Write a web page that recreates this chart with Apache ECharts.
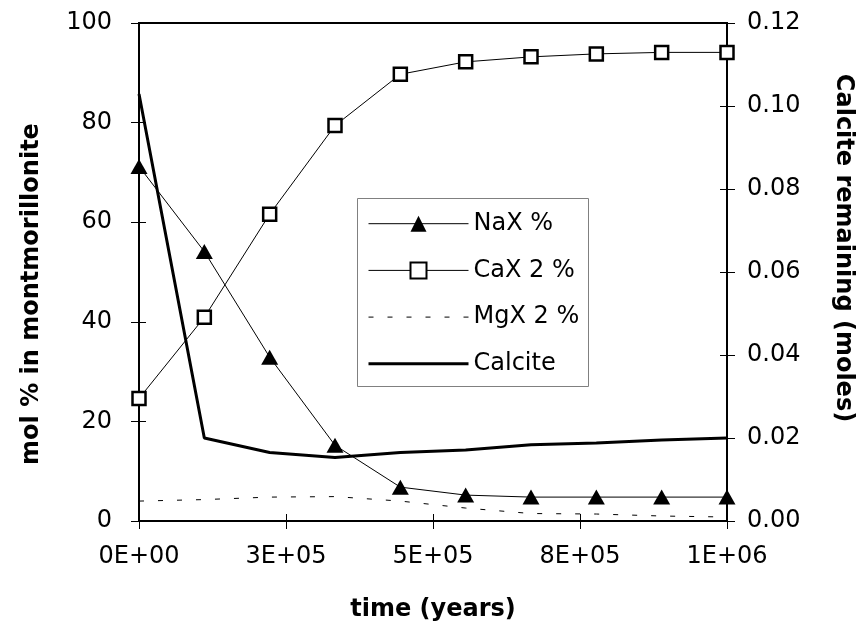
<!DOCTYPE html>
<html>
<head>
<meta charset="utf-8">
<script src="https://cdn.jsdelivr.net/npm/echarts@6/dist/echarts.min.js"></script>
<style>
html,body{margin:0;padding:0;background:#fff;}
#c{width:863px;height:628px;}
</style>
</head>
<body>
<div id="c"></div>
<script>
var timeYears = [0, 111111, 222222, 333333, 444444, 555556, 666667, 777778, 888889, 1000000];
var naxPct = [71.2, 54.1, 32.9, 15.2, 6.8, 5.2, 4.8, 4.8, 4.8, 4.8];
var caxPct = [24.6, 40.9, 61.6, 79.4, 89.7, 92.2, 93.2, 93.8, 94.1, 94.1];
var mgxPct = [4.0, 4.3, 4.8, 4.9, 4.0, 2.6, 1.5, 1.4, 1.0, 0.8];
var calciteMoles = [0.1029, 0.0200, 0.0165, 0.0153, 0.0165, 0.0171, 0.0184, 0.0188, 0.0195, 0.0200];
var xTickLabels = ['0E+00', '3E+05', '5E+05', '8E+05', '1E+06'];
var seriesNames = ['NaX %', 'CaX 2 %', 'MgX 2 %', 'Calcite'];

function pairs(ys) { return timeYears.map(function (t, i) { return [t, ys[i]]; }); }

var chart = echarts.init(document.getElementById('c'), null, {renderer: 'canvas'});
var labelFont = {fontFamily: 'DejaVu Sans', fontSize: 24, color: '#000'};
var nameFont = {fontFamily: 'DejaVu Sans', fontSize: 24, fontWeight: 'bold', color: '#000'};
var gridBox = {left: 139, right: 136, top: 23, bottom: 107};
var tickIn = {show: true, inside: true, length: 7, lineStyle: {color: '#000', width: 1}};
var tickOut = {show: true, inside: false, length: 8, lineStyle: {color: '#000', width: 1}};

var option = {
  backgroundColor: '#fff',
  animation: false,
  grid: [
    Object.assign({show: true, borderColor: '#000', borderWidth: 2}, gridBox),
    Object.assign({show: false}, gridBox)
  ],
  legend: {
    orient: 'vertical', left: 367, top: 211.7, padding: 0,
    itemWidth: 100, itemHeight: 20, itemGap: 22.7,
    textStyle: {fontFamily: 'DejaVu Sans', fontSize: 24, color: '#000'},
    data: [
      {name: seriesNames[0], lineStyle: {width: 1}},
      {name: seriesNames[1], lineStyle: {width: 1}},
      {name: seriesNames[2], itemStyle: {opacity: 0}, lineStyle: {width: 1}},
      {name: seriesNames[3], itemStyle: {opacity: 0}, lineStyle: {width: 3}}
    ]
  },
  graphic: [{
    type: 'rect', shape: {x: 357.5, y: 198.5, width: 231, height: 188},
    style: {fill: 'none', stroke: '#808080', lineWidth: 1}, z: -1
  }],
  xAxis: [{
    gridIndex: 0, type: 'value', min: 0, max: 1000000, interval: 250000,
    name: 'time (years)', nameLocation: 'middle', nameGap: 77, nameTextStyle: nameFont,
    axisLine: {show: true, lineStyle: {color: '#000', width: 2}},
    axisTick: tickOut,
    axisLabel: Object.assign({margin: 24, formatter: function (v) { return xTickLabels[Math.round(v / 250000)]; }}, labelFont),
    splitLine: {show: false}
  }, {
    gridIndex: 1, type: 'value', min: 0, max: 1000000, interval: 250000, position: 'bottom',
    axisLine: {show: false}, axisTick: tickIn,
    axisLabel: {show: false}, splitLine: {show: false}
  }],
  yAxis: [{
    gridIndex: 0, type: 'value', min: 0, max: 100, interval: 20, position: 'left',
    name: 'mol % in montmorillonite', nameLocation: 'middle', nameGap: 95,
    nameTextStyle: Object.assign({padding: [0, 44, 0, 0]}, nameFont),
    axisLine: {show: true, lineStyle: {color: '#000', width: 2}},
    axisTick: tickOut,
    axisLabel: Object.assign({margin: 27}, labelFont),
    splitLine: {show: false}
  }, {
    gridIndex: 0, type: 'value', min: 0, max: 0.12, interval: 0.02, position: 'right',
    name: 'Calcite remaining (moles)', nameLocation: 'middle', nameGap: 104, nameRotate: -90,
    nameTextStyle: Object.assign({padding: [0, 48, 0, 0]}, nameFont),
    axisLine: {show: true, lineStyle: {color: '#000', width: 2}},
    axisTick: tickOut,
    axisLabel: Object.assign({margin: 20, formatter: function (v) { return v.toFixed(2); }}, labelFont),
    splitLine: {show: false}
  }, {
    gridIndex: 1, type: 'value', min: 0, max: 100, interval: 20, position: 'left',
    axisLine: {show: false}, axisTick: tickIn,
    axisLabel: {show: false}, splitLine: {show: false}
  }, {
    gridIndex: 1, type: 'value', min: 0, max: 0.12, interval: 0.02, position: 'right',
    axisLine: {show: false}, axisTick: tickIn,
    axisLabel: {show: false}, splitLine: {show: false}
  }],
  series: [{
    name: seriesNames[0], type: 'line', data: pairs(naxPct), xAxisIndex: 0, yAxisIndex: 0,
    symbol: 'triangle', symbolSize: [17, 15],
    itemStyle: {color: '#000'}, lineStyle: {color: '#000', width: 1}, z: 5
  }, {
    name: seriesNames[1], type: 'line', data: pairs(caxPct), xAxisIndex: 0, yAxisIndex: 0,
    symbol: 'rect', symbolSize: 13,
    itemStyle: {color: '#fff', borderColor: '#000', borderWidth: 2.5}, lineStyle: {color: '#000', width: 1}, z: 5
  }, {
    name: seriesNames[2], type: 'line', data: pairs(mgxPct), xAxisIndex: 0, yAxisIndex: 0,
    symbol: 'circle', showSymbol: false,
    itemStyle: {color: '#000'}, lineStyle: {color: '#000', width: 1, type: [5, 14]}, z: 4
  }, {
    name: seriesNames[3], type: 'line', data: pairs(calciteMoles), xAxisIndex: 0, yAxisIndex: 1,
    symbol: 'circle', showSymbol: false,
    itemStyle: {color: '#000'}, lineStyle: {color: '#000', width: 3}, z: 4
  }]
};
chart.setOption(option);
</script>
</body>
</html>
